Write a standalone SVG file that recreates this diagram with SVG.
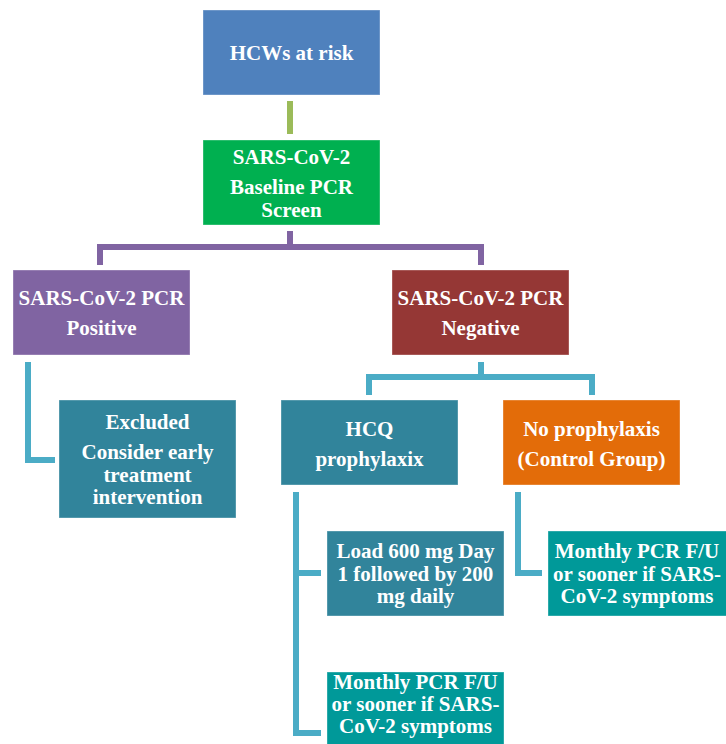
<svg xmlns="http://www.w3.org/2000/svg" width="726" height="744" viewBox="0 0 726 744">
<style>
text{font-family:"Liberation Serif","Times New Roman",serif;font-weight:bold;font-size:21px;fill:#fff;text-anchor:middle}
.box{stroke:#fff;stroke-opacity:0.35;stroke-width:1}
.c{fill:none;stroke-width:6;stroke-linecap:butt;stroke-linejoin:miter}
</style>
<rect width="726" height="744" fill="#fff"/>
<g id="connectors">
<path class="c" stroke="#9BBB59" d="M290 101V134"/>
<path class="c" stroke="#8064A2" d="M290 231V247M100 265V247H481V265"/>
<path class="c" stroke="#4BACC6" d="M28 362V460H55"/>
<path class="c" stroke="#4BACC6" d="M481 362V377M369 395V377H592V395"/>
<path class="c" stroke="#4BACC6" d="M296 492V733H321M296 573H321"/>
<path class="c" stroke="#4BACC6" d="M518 492V573H542"/>
</g>
<g id="n1"><rect class="box" x="203" y="10" width="177" height="85" fill="#4F81BD"/><text x="291.5" y="60">HCWs at risk</text></g>
<g id="n2"><rect class="box" x="203" y="140" width="177" height="85" fill="#00B050"/><text x="291.5" y="164">SARS-CoV-2</text><text x="291.5" y="194">Baseline PCR</text><text x="291.5" y="217">Screen</text></g>
<g id="n3"><rect class="box" x="13" y="270" width="177" height="85" fill="#8064A2"/><text x="101.5" y="305">SARS-CoV-2 PCR</text><text x="101.5" y="335">Positive</text></g>
<g id="n4"><rect class="box" x="392" y="270" width="177" height="85" fill="#953735"/><text x="480.5" y="305">SARS-CoV-2 PCR</text><text x="480.5" y="335">Negative</text></g>
<g id="n5"><rect class="box" x="59" y="400" width="177" height="118" fill="#31849B"/><text x="147.5" y="429">Excluded</text><text x="147.5" y="459">Consider early</text><text x="147.5" y="482">treatment</text><text x="147.5" y="504">intervention</text></g>
<g id="n6"><rect class="box" x="281" y="400" width="177" height="85" fill="#31849B"/><text x="369.5" y="436">HCQ</text><text x="369.5" y="466">prophylaxix</text></g>
<g id="n7"><rect class="box" x="503" y="400" width="177" height="85" fill="#E36C09"/><text x="591.5" y="436">No prophylaxis</text><text x="591.5" y="466">(Control Group)</text></g>
<g id="n8"><rect class="box" x="327" y="531" width="177" height="85" fill="#31849B"/><text x="415.5" y="558">Load 600 mg Day</text><text x="415.5" y="581">1 followed by 200</text><text x="415.5" y="603">mg daily</text></g>
<g id="n9"><rect class="box" x="327" y="672" width="177" height="75" fill="#009999"/><text x="415.5" y="689">Monthly PCR F/U</text><text x="415.5" y="711">or sooner if SARS-</text><text x="415.5" y="733">CoV-2 symptoms</text></g>
<g id="n10"><rect class="box" x="548" y="531" width="180" height="85" fill="#009999"/><text x="637" y="558">Monthly PCR F/U</text><text x="637" y="581">or sooner if SARS-</text><text x="637" y="603">CoV-2 symptoms</text></g>
</svg>
